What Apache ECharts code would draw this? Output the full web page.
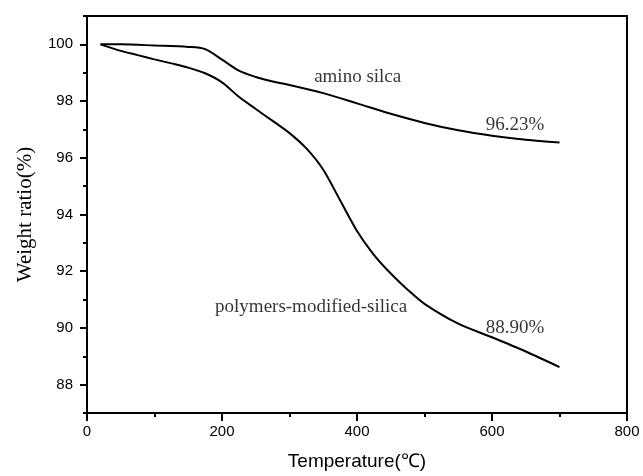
<!DOCTYPE html>
<html>
<head>
<meta charset="utf-8">
<script src="https://cdn.jsdelivr.net/npm/echarts@6/dist/echarts.min.js"></script>
<style>
html,body{margin:0;padding:0;background:#fff;}
#chart{width:643px;height:476px;}
</style>
</head>
<body>
<div id="chart"></div>
<script>
// amino silica
var aminoT = [20, 50, 100, 150, 175, 200, 225, 250, 275, 300, 350, 400, 450, 500, 550, 600, 650, 700];
var aminoW = [100.0, 100.0, 99.96, 99.91, 99.83, 99.46, 99.07, 98.85, 98.69, 98.57, 98.28, 97.92, 97.55, 97.23, 96.97, 96.78, 96.64, 96.54];
// polymers-modified-silica
var polyT = [20, 50, 75, 100, 125, 150, 175, 200, 225, 250, 275, 300, 325, 350, 375, 400, 425, 450, 475, 500, 550, 600, 650, 700];
var polyW = [100.0, 99.77, 99.62, 99.47, 99.33, 99.18, 98.98, 98.66, 98.15, 97.72, 97.3, 96.87, 96.33, 95.58, 94.5, 93.42, 92.58, 91.92, 91.35, 90.85, 90.15, 89.67, 89.17, 88.62];
// y tick labels
var yTicks = [88, 90, 92, 94, 96, 98, 100];
// annotations (data coordinates)
var noteText = ['amino silca', '96.23%', 'polymers-modified-silica', '88.90%'];
var noteT = [401, 634, 332, 634];
var noteW = [98.84, 97.15, 90.74, 90.0];

function pairs(xs, ys){ return xs.map(function(x,i){ return [x, ys[i]]; }); }

var chart = echarts.init(document.getElementById('chart'), null, {renderer:'canvas'});
var sans = 'Liberation Sans, Arial, sans-serif';
var serif = 'Liberation Serif, Times New Roman, serif';
chart.setOption({
  backgroundColor: '#fff',
  animation: false,
  grid: {left: 87, right: 16, top: 16, bottom: 63, show: true, borderColor: '#000', borderWidth: 2, backgroundColor: 'transparent'},
  xAxis: {
    type: 'value', min: 0, max: 800, interval: 200,
    name: 'Temperature(\u2103)', nameLocation: 'middle', nameGap: 39,
    nameTextStyle: {fontFamily: sans, fontSize: 19, color: '#000'},
    axisLine: {show: true, lineStyle: {color: '#000', width: 2}},
    axisTick: {show: true, inside: false, length: 8, lineStyle: {color: '#000', width: 2}},
    minorTick: {show: true, splitNumber: 2, length: 4, lineStyle: {color: '#000', width: 2}},
    axisLabel: {fontFamily: sans, fontSize: 15, color: '#000', margin: 11},
    splitLine: {show: false}
  },
  yAxis: [{
    type: 'value', min: 87, max: 101, interval: 1,
    name: 'Weight ratio(%)', nameLocation: 'middle', nameGap: 51,
    nameTextStyle: {fontFamily: serif, fontSize: 21, color: '#000'},
    axisLine: {show: true, lineStyle: {color: '#000', width: 2}},
    axisTick: {show: true, inside: false, length: 7, customValues: yTicks, lineStyle: {color: '#000', width: 2}},
    axisLabel: {fontFamily: sans, fontSize: 15, color: '#000', margin: 14, customValues: yTicks},
    splitLine: {show: false}
  }, {
    type: 'value', min: 87, max: 101, interval: 1, position: 'left',
    axisLine: {show: false},
    axisTick: {show: true, inside: false, length: 4, lineStyle: {color: '#000', width: 2}},
    axisLabel: {show: false},
    splitLine: {show: false}
  }],
  series: [
    {type: 'line', name: 'amino silca', data: pairs(aminoT, aminoW), smooth: 0.3, showSymbol: false,
     lineStyle: {color: '#000', width: 2}},
    {type: 'line', name: 'polymers-modified-silica', data: pairs(polyT, polyW), smooth: 0.3, showSymbol: false,
     lineStyle: {color: '#000', width: 2}},
    {type: 'scatter', symbolSize: 0, silent: true,
     data: noteText.map(function(t,i){ return {value: [noteT[i], noteW[i]], name: t}; }),
     label: {show: true, position: 'inside', formatter: '{b}', fontFamily: serif, fontSize: 19, color: '#000'}}
  ]
});
</script>
</body>
</html>
